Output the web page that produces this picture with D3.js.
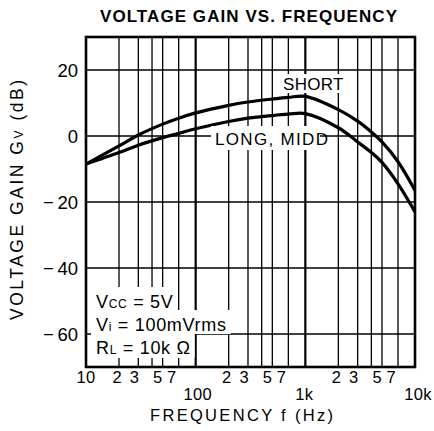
<!DOCTYPE html>
<html lang="en">
<head>
<meta charset="utf-8">
<title>Voltage gain vs. frequency</title>
<script src="https://d3js.org/d3.v7.min.js"></script>
<style>
  body { margin: 0; background: #fff; }
  text { font-family: "Liberation Sans", Arial, sans-serif; fill: #000; }
</style>
</head>
<body>
<div id="chart"></div>
<script>
// values
const freqs     = [10, 20, 30, 50, 70, 100, 200, 300, 500, 700, 1000, 2000, 3000, 4000, 5000, 7000, 10000];
const shortGain = [-8.5, -3, 0.3, 3.6, 5.4, 7, 9.3, 10.3, 11.2, 11.7, 12, 8, 4.5, 1.2, -1.8, -7.8, -16.5];
const longGain  = [-8.5, -5, -2.8, -0.5, 0.8, 2.2, 4.4, 5.4, 6.2, 6.6, 6.8, 2.5, -1.8, -5, -8, -14.5, -23];

const gainTicks  = [20, 0, -20, -40, -60];
const minorMult  = [2, 3, 4, 5, 7];
const decades    = [10, 100, 1000];
const majorFreqs = [10, 100, 1000, 10000];
const minorLabels = [2, 3, 5, 7];
const majorLabels = ["10", "100", "1k", "10k"];

const W = 434, H = 431;
const svg = d3.select("#chart").append("svg")
    .attr("width", W).attr("height", H);

const x = d3.scaleLog().domain([10, 10000]).range([86, 415]);
const y = d3.scaleLinear().domain([-70, 30]).range([367, 37]);

// grid - vertical
const minorFreqs = [];
decades.forEach(d => minorMult.forEach(m => minorFreqs.push(d * m)));

svg.append("g").selectAll("line").data(minorFreqs).enter().append("line")
    .attr("x1", d => x(d)).attr("x2", d => x(d))
    .attr("y1", y(30)).attr("y2", y(-70))
    .attr("stroke", "#000").attr("stroke-width", 1.3);

svg.append("g").selectAll("line").data([100, 1000]).enter().append("line")
    .attr("x1", d => x(d)).attr("x2", d => x(d))
    .attr("y1", y(30)).attr("y2", y(-70))
    .attr("stroke", "#000").attr("stroke-width", 2.2);

// grid - horizontal
svg.append("g").selectAll("line").data(gainTicks).enter().append("line")
    .attr("x1", x(10)).attr("x2", x(10000))
    .attr("y1", d => y(d)).attr("y2", d => y(d))
    .attr("stroke", "#000").attr("stroke-width", 1.6);

// curves
const line = d3.line()
    .x(d => x(d[0])).y(d => y(d[1]))
    .curve(d3.curveCatmullRom.alpha(0.5));

[shortGain, longGain].forEach(g => {
    svg.append("path")
        .datum(freqs.map((f, i) => [f, g[i]]))
        .attr("d", line)
        .attr("fill", "none").attr("stroke", "#000")
        .attr("stroke-width", 3.2);
});

// frame
svg.append("rect")
    .attr("x", x(10)).attr("y", y(30))
    .attr("width", x(10000) - x(10)).attr("height", y(-70) - y(30))
    .attr("fill", "none").attr("stroke", "#000").attr("stroke-width", 2.6);

// labels with white backing (they hide the grid behind them)
function boxedText(tx, ty, str, size, padX, top, bottom) {
    const g = svg.append("g");
    const r = g.append("rect").attr("fill", "#fff");
    const t = g.append("text").attr("x", tx).attr("y", ty)
        .attr("font-size", size).text(str);
    const b = t.node().getBBox();
    r.attr("x", b.x - padX).attr("width", b.width + 2 * padX)
     .attr("y", top).attr("height", bottom - top);
    return t;
}
boxedText(283, 90, "SHORT", 17, 3, 74, 93).attr("letter-spacing", 0.3);
boxedText(215, 145, "LONG, MIDD", 17, 4, 126, 150).attr("textLength", 113);

// conditions box
const cond = svg.append("g");
const condBack = cond.append("g");
const condRows = [
    { y: 308, main: "V", sub: "CC", rest: " = 5V" },
    { y: 331, main: "V", sub: "i", rest: " = 100mVrms" },
    { y: 354, main: "R", sub: "L", rest: " = 10k \u03a9" }
];
const rowTop = [287, 310, 334, 358];
condRows.forEach((r, i) => {
    const t = cond.append("text").attr("x", 96).attr("y", r.y)
        .attr("font-size", 18).attr("letter-spacing", 0.7);
    t.append("tspan").text(r.main);
    t.append("tspan").attr("font-size", 12).text(r.sub);
    t.append("tspan").text(r.rest);
    const b = t.node().getBBox();
    condBack.append("rect").attr("fill", "#fff")
        .attr("x", 91).attr("width", b.x + b.width + 4 - 91)
        .attr("y", rowTop[i]).attr("height", rowTop[i + 1] - rowTop[i]);
});

// y tick labels
svg.append("g").selectAll("text").data(gainTicks).enter().append("text")
    .attr("x", 78).attr("y", d => y(d) + 7)
    .attr("text-anchor", "end").attr("font-size", 18.5)
    .text(d => d < 0 ? "\u2212\u2009" + Math.abs(d) : d);

// x tick labels
const minorOffset = { 2: -2, 3: -4, 5: -5, 7: -7 };
const minorTickData = [];
decades.forEach(d => minorLabels.forEach(m => minorTickData.push({ f: d * m, m: m })));
svg.append("g").selectAll("text").data(minorTickData).enter().append("text")
    .attr("x", d => x(d.f) + minorOffset[d.m]).attr("y", 383)
    .attr("text-anchor", "middle").attr("font-size", 16.5)
    .text(d => d.m);

const majorOffset = [0, 2, -1, 3];
svg.append("g").selectAll("text").data(majorFreqs).enter().append("text")
    .attr("x", (d, i) => x(d) + majorOffset[i])
    .attr("y", (d, i) => i === 0 ? 383 : 400)
    .attr("text-anchor", "middle").attr("font-size", 16.5)
    .attr("letter-spacing", 0.3)
    .text((d, i) => majorLabels[i]);

// axis titles
svg.append("text")
    .attr("x", 150).attr("y", 421)
    .attr("font-size", 16.5).attr("textLength", 183)
    .text("FREQUENCY  f  (Hz)");

const yl = svg.append("text")
    .attr("transform", "translate(23,320) rotate(-90)")
    .attr("font-size", 17.5).attr("textLength", 240);
yl.append("tspan").text("VOLTAGE  GAIN  G");
yl.append("tspan").attr("font-size", 12).text("V");
yl.append("tspan").text("  (dB)");

// title
svg.append("text")
    .attr("x", 100).attr("y", 21.5)
    .attr("font-size", 17).attr("font-weight", "bold")
    .attr("textLength", 297)
    .text("VOLTAGE GAIN VS. FREQUENCY");
</script>
</body>
</html>
